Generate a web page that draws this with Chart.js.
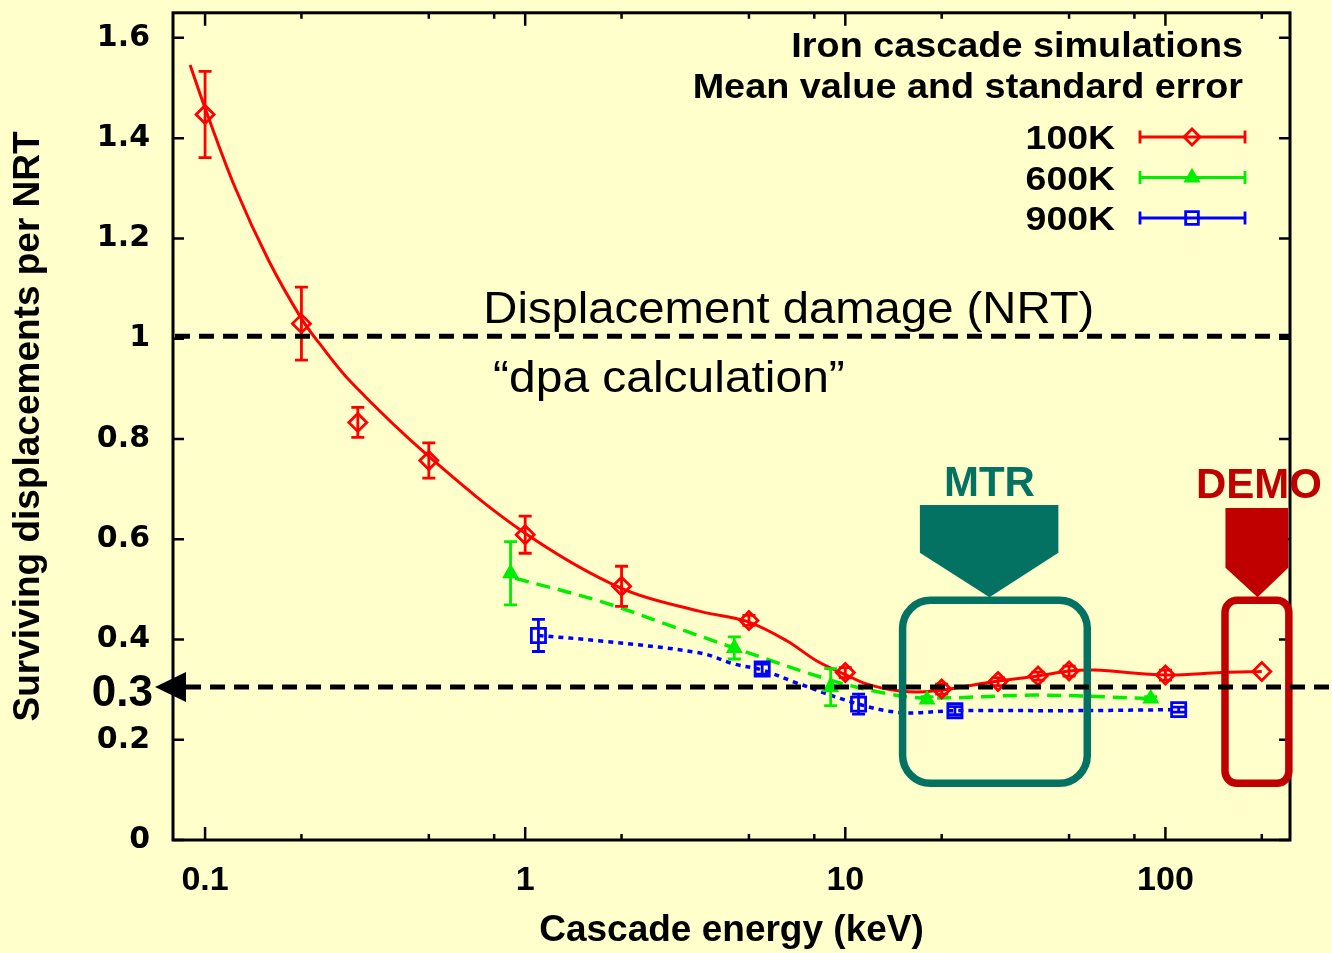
<!DOCTYPE html>
<html>
<head>
<meta charset="utf-8">
<script src="https://cdn.jsdelivr.net/npm/chart.js@4.4.0/dist/chart.umd.min.js"></script>
<style>
  html, body { margin: 0; padding: 0; background: #FFFFCC; }
  #wrap { width: 1332px; height: 953px; }
</style>
</head>
<body>
<div id="wrap"><canvas id="chart" width="1332" height="953"></canvas></div>
<script>
// values: x = cascade energy (keV), y = surviving displacements per NRT

// 100K: mean, standard error, and the smooth fit drawn through them
const energy100K = [0.1, 0.2, 0.3, 0.5, 1, 2, 5, 10, 20, 30, 40, 50, 100, 200];
const mean100K   = [1.447, 1.03, 0.833, 0.757, 0.609, 0.506, 0.438, 0.334, 0.301, 0.316, 0.327, 0.337, 0.329, 0.336];
const err100K    = [0.086, 0.073, 0.03, 0.035, 0.037, 0.04, 0.01, 0.01, 0.01, 0.008, 0.008, 0.01, 0.01, 0];
const fitX100K   = [0.0898, 0.1, 0.124, 0.158, 0.2, 0.226, 0.287, 0.5, 1, 2, 3.52, 4.93, 6.58, 8.15, 10, 11.7, 14.9, 18.8, 30, 40, 50, 60, 100, 150, 200];
const fitY100K   = [1.546, 1.46, 1.302, 1.156, 1.04, 0.993, 0.912, 0.765, 0.612, 0.502, 0.456, 0.436, 0.397, 0.357, 0.330, 0.311, 0.297, 0.297, 0.317, 0.327, 0.337, 0.339, 0.329, 0.334, 0.336];

// 600K
const energy600K = [0.9, 4.5, 9, 18, 90];
const mean600K   = [0.532, 0.383, 0.305, 0.280, 0.282];
const err600K    = [0.063, 0.022, 0.037, 0.006, 0.004];
const fitX600K   = [0.93, 1.72, 2.77, 4.5, 9.2, 13.8, 18, 40, 90];
const fitY600K   = [0.522, 0.476, 0.43, 0.383, 0.317, 0.291, 0.283, 0.289, 0.282];

// 900K
const energy900K = [1.1, 5.5, 11, 22, 110];
const mean900K   = [0.408, 0.341, 0.271, 0.258, 0.26];
const err900K    = [0.032, 0.01, 0.02, 0.008, 0.005];
const fitX900K   = [1.1, 1.72, 3.52, 4.5, 5.5, 7, 11, 15, 22, 50, 110];
const fitY900K   = [0.408, 0.397, 0.373, 0.351, 0.339, 0.314, 0.271, 0.254, 0.258, 0.258, 0.26];

// axes
const xTickValues  = [0.1, 1, 10, 100];
const xTickLabels  = ['0.1', '1', '10', '100'];
const xMinorValues = [0.2, 0.5, 0.8, 2, 5, 8, 20, 50, 80, 200];
const yTickValues  = [0, 0.2, 0.4, 0.6, 0.8, 1, 1.2, 1.4, 1.6];
const yTickLabels  = ['0', '0.2', '0.4', '0.6', '0.8', '1', '1.2', '1.4', '1.6'];

// reference levels
const nrtLevel = 1.005;
const targetLevel = 0.305;

const RED = '#ff0000', GREEN = '#00ee00', BLUE = '#0000ff';
const TEAL = '#037262', DARKRED = '#c00000';
const BG = '#FFFFCC';
const SANS = '"Liberation Sans", Arial, sans-serif';

const pts = (xs, ys) => xs.map((v, i) => ({ x: v, y: ys[i] }));

function text(ctx, s, x, y, font, color, align, sx) {
  ctx.save();
  ctx.font = font;
  ctx.fillStyle = color;
  ctx.textAlign = align || 'left';
  ctx.textBaseline = 'alphabetic';
  ctx.translate(x, y);
  ctx.scale(sx || 1, 1);
  ctx.fillText(s, 0, 0);
  ctx.restore();
}

function roundRect(ctx, x0, y0, x1, y1, r) {
  ctx.beginPath();
  ctx.moveTo(x0 + r, y0);
  ctx.lineTo(x1 - r, y0);
  ctx.arcTo(x1, y0, x1, y0 + r, r);
  ctx.lineTo(x1, y1 - r);
  ctx.arcTo(x1, y1, x1 - r, y1, r);
  ctx.lineTo(x0 + r, y1);
  ctx.arcTo(x0, y1, x0, y1 - r, r);
  ctx.lineTo(x0, y0 + r);
  ctx.arcTo(x0, y0, x0 + r, y0, r);
  ctx.closePath();
}

function errorBars(ctx, x, y, xs, ys, es, color) {
  ctx.save();
  ctx.strokeStyle = color;
  ctx.lineWidth = 2.8;
  xs.forEach((v, i) => {
    if (!es[i]) return;
    const px = x.getPixelForValue(v);
    const top = y.getPixelForValue(ys[i] + es[i]);
    const bot = y.getPixelForValue(ys[i] - es[i]);
    ctx.beginPath();
    ctx.moveTo(px, top); ctx.lineTo(px, bot);
    ctx.moveTo(px - 6.5, top); ctx.lineTo(px + 6.5, top);
    ctx.moveTo(px - 6.5, bot); ctx.lineTo(px + 6.5, bot);
    ctx.stroke();
  });
  ctx.restore();
}

// callout arrow: box with a pointed bottom
function callout(ctx, x, y, c) {
  const l = x.getPixelForValue(c.x0), r = x.getPixelForValue(c.x1);
  const t = y.getPixelForValue(c.yTop), m = y.getPixelForValue(c.yMid);
  const tipX = x.getPixelForValue(c.tip), tipY = y.getPixelForValue(c.yTip);
  ctx.save();
  ctx.fillStyle = c.color;
  ctx.beginPath();
  ctx.moveTo(l, t); ctx.lineTo(r, t); ctx.lineTo(r, m);
  ctx.lineTo(tipX, tipY); ctx.lineTo(l, m);
  ctx.closePath();
  ctx.fill();
  ctx.restore();
}

const mtr  = { x0: 17.1, x1: 46.3, tip: 28.2, yTop: 0.668, yMid: 0.573, yTip: 0.484, color: TEAL };
const demo = { x0: 154, x1: 242, tip: 194, yTop: 0.662, yMid: 0.543, yTip: 0.484, color: DARKRED };
const mtrBox  = { x0: 15.1, x1: 57, y0: 0.113, y1: 0.478, r: 28, color: TEAL };
const demoBox = { x0: 153.5, x1: 243, y0: 0.113, y1: 0.478, r: 12, color: DARKRED };

const legendRows = [
  { label: '100K', color: RED, style: 'rectRot', radius: 8, fill: 'rgba(0,0,0,0)' },
  { label: '600K', color: GREEN, style: 'triangle', radius: 7, fill: GREEN },
  { label: '900K', color: BLUE, style: 'rect', radius: 9, fill: 'rgba(0,0,0,0)' },
];

const overlay = {
  id: 'overlay',
  beforeDraw(chart) {
    const ctx = chart.ctx;
    ctx.save();
    ctx.fillStyle = BG;
    ctx.fillRect(0, 0, chart.width, chart.height);
    ctx.restore();
  },
  afterDatasetsDraw(chart) {
    const { ctx, chartArea: a, scales: { x, y } } = chart;

    errorBars(ctx, x, y, energy100K, mean100K, err100K, RED);
    errorBars(ctx, x, y, energy600K, mean600K, err600K, GREEN);
    errorBars(ctx, x, y, energy900K, mean900K, err900K, BLUE);

    // frame with inward ticks on all four sides
    ctx.save();
    ctx.strokeStyle = '#000';
    ctx.lineWidth = 3;
    ctx.strokeRect(a.left, a.top, a.right - a.left, a.bottom - a.top);
    ctx.lineWidth = 2.5;
    ctx.beginPath();
    yTickValues.forEach(v => {
      const py = y.getPixelForValue(v);
      ctx.moveTo(a.left, py); ctx.lineTo(a.left + 11, py);
      ctx.moveTo(a.right, py); ctx.lineTo(a.right - 11, py);
    });
    xTickValues.forEach(v => {
      const px = x.getPixelForValue(v);
      ctx.moveTo(px, a.bottom); ctx.lineTo(px, a.bottom - 13);
      ctx.moveTo(px, a.top); ctx.lineTo(px, a.top + 13);
    });
    xMinorValues.forEach(v => {
      const px = x.getPixelForValue(v);
      ctx.moveTo(px, a.bottom); ctx.lineTo(px, a.bottom - 6);
      ctx.moveTo(px, a.top); ctx.lineTo(px, a.top + 6);
    });
    ctx.stroke();
    ctx.restore();

    // MTR / DEMO call-outs
    callout(ctx, x, y, mtr);
    callout(ctx, x, y, demo);
    [mtrBox, demoBox].forEach(b => {
      ctx.save();
      ctx.strokeStyle = b.color;
      ctx.lineWidth = 7.5;
      roundRect(ctx, x.getPixelForValue(b.x0), y.getPixelForValue(b.y1),
        x.getPixelForValue(b.x1), y.getPixelForValue(b.y0), b.r);
      ctx.stroke();
      ctx.restore();
    });
    text(ctx, 'MTR', x.getPixelForValue(28.2), y.getPixelForValue(0.686), 'bold 42px ' + SANS, TEAL, 'center');
    text(ctx, 'DEMO', x.getPixelForValue(196), y.getPixelForValue(0.682), 'bold 42px ' + SANS, DARKRED, 'center');

    // dashed reference levels
    ctx.save();
    ctx.strokeStyle = '#000';
    ctx.lineWidth = 5;
    ctx.setLineDash([15, 9]);
    const yn = y.getPixelForValue(nrtLevel);
    ctx.beginPath();
    ctx.moveTo(a.left + 2, yn); ctx.lineTo(a.right, yn);
    ctx.stroke();
    const yt = y.getPixelForValue(targetLevel);
    ctx.beginPath();
    ctx.moveTo(186, yt); ctx.lineTo(chart.width, yt);
    ctx.stroke();
    ctx.restore();

    // arrow head + "0.3" label
    ctx.save();
    ctx.fillStyle = '#000';
    ctx.beginPath();
    ctx.moveTo(155, yt);
    ctx.lineTo(186, yt - 15);
    ctx.lineTo(186, yt + 15);
    ctx.closePath();
    ctx.fill();
    ctx.restore();
    text(ctx, '0.3', 153, yt + 19, 'bold 44px ' + SANS, '#000', 'right');

    text(ctx, 'Displacement damage (NRT)', x.getPixelForValue(0.74), y.getPixelForValue(1.031), '45px ' + SANS, '#000', 'left', 1.05);
    text(ctx, '\u201cdpa calculation\u201d', x.getPixelForValue(0.794), y.getPixelForValue(0.894), '45px ' + SANS, '#000', 'left', 1.065);

    // legend
    text(ctx, 'Iron cascade simulations', a.right - 47, 57, 'bold 35px ' + SANS, '#000', 'right', 1.08);
    text(ctx, 'Mean value and standard error', a.right - 47, 98, 'bold 35px ' + SANS, '#000', 'right', 1.08);
    legendRows.forEach((row, i) => {
      const cy = 137 + i * 40.5;
      text(ctx, row.label, a.right - 175, cy + 12, 'bold 34px ' + SANS, '#000', 'right', 1.1);
      ctx.save();
      ctx.strokeStyle = row.color;
      ctx.lineWidth = 2.8;
      ctx.beginPath();
      ctx.moveTo(a.right - 150, cy); ctx.lineTo(a.right - 45, cy);
      ctx.moveTo(a.right - 150, cy - 6.5); ctx.lineTo(a.right - 150, cy + 6.5);
      ctx.moveTo(a.right - 45, cy - 6.5); ctx.lineTo(a.right - 45, cy + 6.5);
      ctx.stroke();
      ctx.fillStyle = row.fill;
      Chart.helpers.drawPoint(ctx, { pointStyle: row.style, radius: row.radius, borderWidth: 2.8, rotation: 0 }, a.right - 98, cy);
      ctx.restore();
    });
  }
};

const markerSet = (xs, ys, color, style, radius, fill) => ({
  data: pts(xs, ys),
  showLine: false,
  pointStyle: style,
  pointRadius: radius,
  pointBorderWidth: 2.8,
  pointBorderColor: color,
  pointBackgroundColor: fill,
  pointHoverRadius: radius,
});

const curveSet = (xs, ys, color, dash, width) => ({
  data: pts(xs, ys),
  showLine: true,
  pointRadius: 0,
  borderColor: color,
  borderWidth: width,
  borderDash: dash,
  tension: 0.35,
});

new Chart(document.getElementById('chart'), {
  type: 'scatter',
  data: {
    datasets: [
      markerSet(energy100K, mean100K, RED, 'rectRot', 9, 'rgba(0,0,0,0)'),
      markerSet(energy600K, mean600K, GREEN, 'triangle', 7, GREEN),
      markerSet(energy900K, mean900K, BLUE, 'rect', 10, 'rgba(0,0,0,0)'),
      curveSet(fitX100K, fitY100K, RED, [], 3),
      curveSet(fitX600K, fitY600K, GREEN, [14, 8], 3.5),
      curveSet(fitX900K, fitY900K, BLUE, [5, 5], 3.5),
    ],
  },
  options: {
    responsive: false,
    animation: false,
    events: [],
    layout: { padding: { top: 8, right: 42, bottom: 0, left: 0 } },
    plugins: { legend: { display: false }, tooltip: { enabled: false } },
    scales: {
      x: {
        type: 'logarithmic',
        min: 0.0794,
        max: 245,
        afterBuildTicks: ax => { ax.ticks = xTickValues.map(v => ({ value: v })); },
        afterFit: ax => { ax.height = 113; ax.paddingLeft = 0; ax.paddingRight = 0; },
        grid: { display: false, drawTicks: false },
        border: { display: false },
        ticks: {
          autoSkip: false,
          maxRotation: 0,
          padding: 20,
          color: '#000',
          font: { family: SANS, size: 34, weight: 'bold' },
          callback: (v, i) => xTickLabels[i],
        },
        title: {
          display: true,
          text: 'Cascade energy (keV)',
          color: '#000',
          font: { family: SANS, size: 37, weight: 'bold' },
          padding: { top: 0, bottom: 0 },
        },
      },
      y: {
        type: 'linear',
        min: 0,
        max: 1.65,
        afterBuildTicks: ax => { ax.ticks = yTickValues.map(v => ({ value: v })); },
        afterFit: ax => { ax.width = 173; ax.paddingTop = 0; ax.paddingBottom = 0; },
        grid: { display: false, drawTicks: false },
        border: { display: false },
        ticks: {
          padding: 23,
          color: '#000',
          font: { family: '"DejaVu Sans", sans-serif', size: 30, weight: 'bold' },
          callback: (v, i) => yTickLabels[i],
        },
        title: {
          display: true,
          text: 'Surviving displacements per NRT',
          color: '#000',
          font: { family: SANS, size: 37, weight: 'bold' },
          padding: { top: 7, bottom: 0 },
        },
      },
    },
  },
  plugins: [overlay],
});
</script>
</body>
</html>
